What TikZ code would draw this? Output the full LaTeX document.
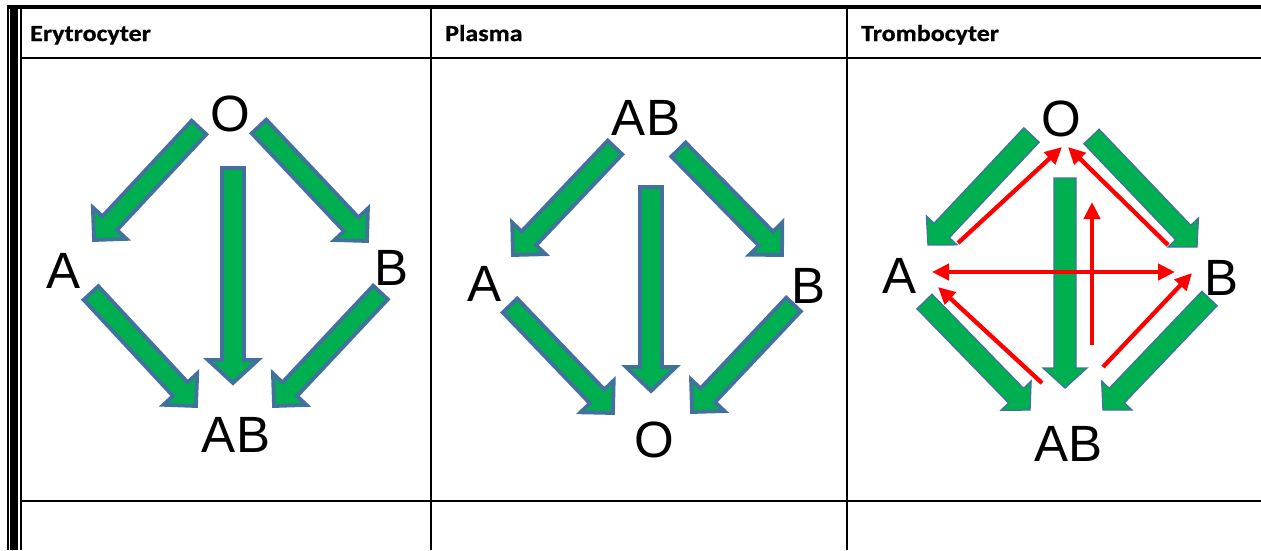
\documentclass[tikz,border=0pt]{standalone}
\usepackage{fontspec}
\usetikzlibrary{arrows.meta}
\newfontfamily\lblfont{Liberation Sans}
\newfontfamily\hdrfont[FakeStretch=1.13,BoldFeatures={FakeBold=0.8}]{Carlito}
\definecolor{bgreen}{HTML}{00B050}
\definecolor{bedge}{HTML}{41719C}
\newcommand\bw{10}
\newcommand\bhw{23}
\newcommand\bhl{23}
\newcommand\barrow[4]{%
  \pgfmathsetmacro\bang{atan2(-(#4-#2),#3-#1)}%
  \pgfmathsetmacro\blen{veclen(#3-#1,#4-#2)}%
  \draw[blockarr,shift={(#1,#2)},rotate=\bang]
    (0,-\bw) -- (\blen-\bhl,-\bw) -- (\blen-\bhl,-\bhw) -- (\blen,0)
    -- (\blen-\bhl,\bhw) -- (\blen-\bhl,\bw) -- (0,\bw) -- cycle;}
\tikzset{
  grid/.style={line width=2, black},
  lbl/.style={inner sep=0, font=\lblfont\fontsize{51}{60}\selectfont},
  hdr/.style={inner sep=0, anchor=base west, font=\hdrfont\bfseries\fontsize{23}{26}\selectfont},
  blockarr/.style={fill=bgreen, draw=bedge, line width=3.8, line join=miter},
  redarr/.style={red, line width=4.3, -{Triangle[length=17,width=16]}},
  redarrb/.style={red, line width=4.3, {Triangle[length=17,width=16]}-{Triangle[length=17,width=16]}}
}
\begin{document}
\begin{tikzpicture}[x=1pt,y=-1pt]
\useasboundingbox (0,0) rectangle (1261,550);
% table
\draw[line width=1.5] (7.75,5) -- (7.75,550);
\draw[line width=8.5] (13.75,5) -- (13.75,550);
\draw[line width=1.5] (20.75,5) -- (20.75,550);
\draw[line width=4] (7,7) -- (1261,7);
\draw[grid] (21,58) -- (1261,58);
\draw[grid] (21,501) -- (1261,501);
\draw[grid] (431,7) -- (431,550);
\draw[grid] (847,7) -- (847,550);
% headers
\node[hdr] (h1) at (30,41) {Erytrocyter};
\node[hdr] (h2) at (445,41) {Plasma};
\node[hdr] (h3) at (861,41) {Trombocyter};
% panel 1
\node[lbl] (eO) at (230,114) {O};
\node[lbl] (eA) at (64,271) {A};
\node[lbl] (eB) at (391.5,267.5) {B};
\node[lbl] (eAB) at (236,434.5) {AB};
\barrow{199}{127.5}{94}{240}
\barrow{259}{126.5}{367}{241}
\barrow{91}{293}{196}{406}
\barrow{380.5}{292.5}{274}{406}
\begingroup
\renewcommand\bw{11}\renewcommand\bhw{25}\renewcommand\bhl{23}
\barrow{233}{168}{233}{383}
\endgroup
% panel 2
\node[lbl] (pAB) at (646,117.5) {AB};
\node[lbl] (pA) at (484.5,284) {A};
\node[lbl] (pB) at (808,285.5) {B};
\node[lbl] (pO) at (654,440) {O};
\barrow{615}{147.5}{513}{255}
\barrow{678.5}{149.5}{782}{255}
\barrow{510}{305.5}{613}{413}
\barrow{793.5}{304.5}{692}{412}
\begingroup
\renewcommand\bw{11}\renewcommand\bhw{25}\renewcommand\bhl{24}
\barrow{651}{187}{651}{391}
\endgroup
% panel 3
\node[lbl] (tO) at (1061.5,118.5) {O};
\node[lbl] (tA) at (899.5,276) {A};
\node[lbl] (tB) at (1221,277.5) {B};
\node[lbl] (tAB) at (1068.5,443.5) {AB};
\begingroup
\tikzset{blockarr/.append style={line width=1.3}}
\renewcommand\bw{10.5}\renewcommand\bhw{21}\renewcommand\bhl{20}
\barrow{1031.5}{135}{928}{245}
\barrow{1091.5}{136.5}{1197}{247}
\barrow{924.5}{301.5}{1030}{410}
\barrow{1209.5}{298.5}{1103}{410}
\renewcommand\bw{11}\renewcommand\bhw{22}\renewcommand\bhl{20}
\barrow{1065}{178}{1065}{388}
\endgroup
% red arrows
\coordinate (r1a) at (958,243);   \coordinate (r1b) at (1062,147);
\coordinate (r2a) at (1168,245);  \coordinate (r2b) at (1068,147);
\coordinate (r3a) at (932,272);   \coordinate (r3b) at (1175,272);
\coordinate (r4a) at (1092,345);  \coordinate (r4b) at (1092,202);
\coordinate (r5a) at (1042,383);  \coordinate (r5b) at (938,287);
\coordinate (r6a) at (1103,367);  \coordinate (r6b) at (1192,273);
\draw[redarr] (r1a) -- (r1b);
\draw[redarr] (r2a) -- (r2b);
\draw[redarrb] (r3a) -- (r3b);
\draw[redarr] (r4a) -- (r4b);
\draw[redarr] (r5a) -- (r5b);
\draw[redarr] (r6a) -- (r6b);
\end{tikzpicture}
\end{document}
